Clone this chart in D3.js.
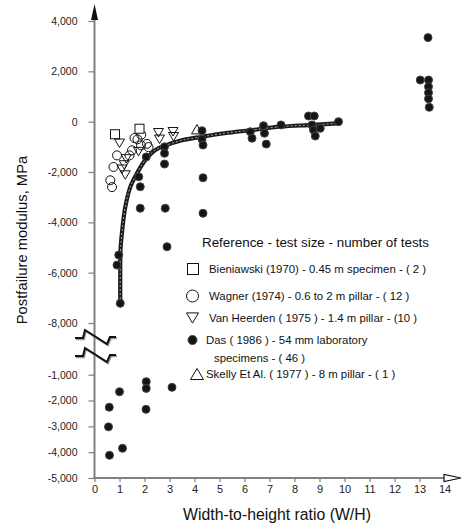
<!DOCTYPE html>
<html>
<head>
<meta charset="utf-8">
<script src="https://cdn.jsdelivr.net/npm/d3@7"></script>
<style>
  body { margin: 0; background: #fff; }
  svg text { font-family: Arial, "Liberation Sans", sans-serif; }
  .axis text { font-size: 10.5px; fill: #222; }
  .axis line { stroke: #808080; stroke-width: 1.2px; }
  .axis path { display: none; }
</style>
</head>
<body>
<svg id="chart" width="462" height="528"></svg>
<script>
// W/H ratio vs postfailure modulus (MPa)
const bieniawski = [[0.82, -500], [1.8, -280]];
const wagner = [[1.87, -520], [1.72, -700], [2.1, -880], [2.16, -1010], [1.86, -940], [1.5, -1140],
                [1.4, -1340], [0.9, -1340], [0.76, -1800], [0.63, -2330], [0.7, -2600], [1.6, -650]];
const vanHeerden = [[1.0, -860], [1.19, -1720], [1.1, -1890], [1.23, -2120], [1.76, -1190],
                    [2.56, -440], [2.6, -700], [3.14, -400], [3.16, -600], [1.27, -1480]];
const skelly = [[4.1, -300]];
const dasUpper = [[0.97, -5300], [0.9, -5700], [1.03, -7220], [1.77, -2190], [1.83, -2585], [1.83, -3440],
                  [2.8, -1000], [2.8, -1258], [2.8, -1683], [2.83, -3440], [2.9, -4970],
                  [4.3, -360], [4.3, -700], [4.34, -930], [4.34, -2228], [4.34, -3640],
                  [6.23, -400], [6.3, -660], [6.76, -160], [6.8, -460], [6.87, -890], [7.46, -130],
                  [8.56, 225], [8.79, 225], [8.7, -130], [8.76, -330], [8.83, -570], [9.03, -265], [9.76, 0],
                  [13.34, 3340], [13.03, 1655], [13.36, 1655], [13.36, 1390], [13.36, 1150], [13.36, 910], [13.39, 570],
                  [2.07, -1400]];
const dasLower = [[1.0, -1660], [0.59, -2260], [0.56, -3020], [0.6, -4120], [1.12, -3850],
                  [2.07, -1270], [2.07, -1530], [2.06, -2340], [3.1, -1490]];
// fitted trend through the laboratory data
const trend = [[1.03, -7200], [1.03, -6000], [1.04, -5100], [1.1, -4400], [1.23, -3400], [1.43, -2600],
               [1.7, -2050], [2.03, -1530], [2.43, -1130], [2.83, -950], [3.5, -740], [4.3, -600],
               [5.2, -460], [6.23, -340], [7.43, -200], [8.7, -130], [9.7, -70]];

const xTicks = d3.range(0, 15);
const upperTicks = [4000, 2000, 0, -2000, -4000, -6000, -8000];
const lowerTicks = [-1000, -2000, -3000, -4000, -5000];

const legendTitle = "Reference - test size - number of tests";
const legendItems = [
  {kind: "square", text: ["Bieniawski (1970) - 0.45 m specimen - ( 2 )"]},
  {kind: "circle", text: ["Wagner (1974) - 0.6 to 2 m pillar - ( 12 )"]},
  {kind: "down", text: ["Van Heerden ( 1975 ) - 1.4 m pillar - (10 )"]},
  {kind: "dot", text: ["Das ( 1986 ) - 54 mm laboratory", "specimens - ( 46 )"]},
  {kind: "up", text: ["Skelly Et Al. ( 1977 ) - 8 m pillar - ( 1 )"]}
];

const svg = d3.select("#chart");
const axisX0 = 94.5, axisY0 = 478;

const x = d3.scaleLinear().domain([0, 14]).range([94.5, 444.5]);
const yUp = d3.scaleLinear().domain([-8000, 4000]).range([323, 21]);
const yLow = d3.scaleLinear().domain([-5000, -1000]).range([478, 374.7]);

const fmt = d => d3.format(",")(d).replace("\u2212", "-");

// axes
svg.append("g").attr("class", "axis")
  .attr("transform", `translate(${axisX0},0)`)
  .call(d3.axisLeft(yUp).tickValues(upperTicks).tickFormat(fmt).tickSize(6).tickPadding(11));
svg.append("g").attr("class", "axis")
  .attr("transform", `translate(${axisX0},0)`)
  .call(d3.axisLeft(yLow).tickValues(lowerTicks).tickFormat(fmt).tickSize(6).tickPadding(11));
svg.append("g").attr("class", "axis")
  .attr("transform", `translate(0,${axisY0})`)
  .call(d3.axisBottom(x).tickValues(xTicks).tickSize(4).tickPadding(3))
  .selectAll("text").style("font-size", "11px");

// axis lines with arrows
svg.append("line").attr("x1", axisX0).attr("x2", axisX0).attr("y1", axisY0 + 1).attr("y2", 14)
  .attr("stroke", "#808080").attr("stroke-width", 2);
svg.append("line").attr("x1", axisX0 - 1).attr("x2", 452).attr("y1", axisY0).attr("y2", axisY0)
  .attr("stroke", "#808080").attr("stroke-width", 2);
svg.append("path").attr("d", `M${axisX0},4 L${axisX0 - 3.5},20 L${axisX0 + 3.5},20 Z`).attr("fill", "#111");
svg.append("path").attr("d", `M461,${axisY0} L444,${axisY0 - 3.5} L444,${axisY0 + 3.5} Z`)
  .attr("fill", "#fff").attr("stroke", "#111").attr("stroke-width", 1.2);

// axis break
const brk = "M75,338 L83,338 L85,330 L107,344 L110,337 L116,337";
[0, 18].forEach(dy => {
  svg.append("path").attr("d", brk).attr("transform", `translate(1,${dy + 1.2})`)
    .attr("fill", "none").attr("stroke", "#999").attr("stroke-width", 2);
  svg.append("path").attr("d", brk).attr("transform", `translate(0,${dy})`)
    .attr("fill", "none").attr("stroke", "#111").attr("stroke-width", 2);
});

// axis titles
svg.append("text").attr("x", 277).attr("y", 520).attr("text-anchor", "middle")
  .style("font-size", "15.8px").attr("fill", "#111").text("Width-to-height ratio (W/H)");
svg.append("text").attr("transform", "translate(27,240) rotate(-90)").attr("text-anchor", "middle")
  .style("font-size", "14.8px").attr("fill", "#111").text("Postfailure modulus, MPa");

// trend curve (double line)
const line = d3.line().x(d => x(d[0])).y(d => yUp(d[1])).curve(d3.curveCatmullRom.alpha(0.5));
svg.append("path").datum(trend).attr("d", line).attr("fill", "none")
  .attr("stroke", "#1a1a1a").attr("stroke-width", 4.2);
svg.append("path").datum(trend).attr("d", line).attr("fill", "none")
  .attr("stroke", "#aaa").attr("stroke-width", 1).attr("stroke-dasharray", "2,2");

// marker shapes
function marker(g, kind, cx, cy, s) {
  if (kind === "square") {
    g.append("rect").attr("x", cx - s / 2).attr("y", cy - s / 2).attr("width", s).attr("height", s)
      .attr("fill", "#fff").attr("stroke", "#111").attr("stroke-width", 1);
  } else if (kind === "circle") {
    g.append("circle").attr("cx", cx).attr("cy", cy).attr("r", s / 2)
      .attr("fill", "none").attr("stroke", "#111").attr("stroke-width", 1);
  } else if (kind === "down") {
    const h = s * 0.85;
    g.append("path").attr("d", `M${cx - s / 2},${cy - h / 2} L${cx + s / 2},${cy - h / 2} L${cx},${cy + h / 2} Z`)
      .attr("fill", "none").attr("stroke", "#111").attr("stroke-width", 1);
  } else if (kind === "up") {
    const h = s * 0.85;
    g.append("path").attr("d", `M${cx - s / 2},${cy + h / 2} L${cx + s / 2},${cy + h / 2} L${cx},${cy - h / 2} Z`)
      .attr("fill", "#fff").attr("stroke", "#111").attr("stroke-width", 1);
  } else {
    g.append("circle").attr("cx", cx).attr("cy", cy).attr("r", s / 2)
      .attr("fill", "#151515").attr("stroke", "#444").attr("stroke-width", 1);
  }
}

const pts = svg.append("g");
wagner.forEach(d => marker(pts, "circle", x(d[0]), yUp(d[1]), 9));
bieniawski.forEach(d => marker(pts, "square", x(d[0]), yUp(d[1]), 9));
vanHeerden.forEach(d => marker(pts, "down", x(d[0]), yUp(d[1]), 10));
skelly.forEach(d => marker(pts, "up", x(d[0]), yUp(d[1]), 11));
dasUpper.forEach(d => marker(pts, "dot", x(d[0]), yUp(d[1]), 8));
dasLower.forEach(d => marker(pts, "dot", x(d[0]), yLow(d[1]), 8));

// legend
const lg = svg.append("g");
lg.append("text").attr("x", 202).attr("y", 247).style("font-size", "13.4px").attr("fill", "#111").text(legendTitle);
const rowY = [273, 300, 322, 344, 378];
const mx = [193, 192.5, 192.5, 192.5, 197];
const msz = [11, 12, 12, 9, 13];
const tx = [209, 209, 209, 206, 206];
legendItems.forEach((it, i) => {
  marker(lg, it.kind, mx[i], rowY[i] - 4, msz[i]);
  it.text.forEach((t, j) => {
    lg.append("text").attr("x", tx[i] + j * 8).attr("y", rowY[i] + j * 18)
      .style("font-size", "11.4px").attr("fill", "#111").text(t);
  });
});
</script>
</body>
</html>
